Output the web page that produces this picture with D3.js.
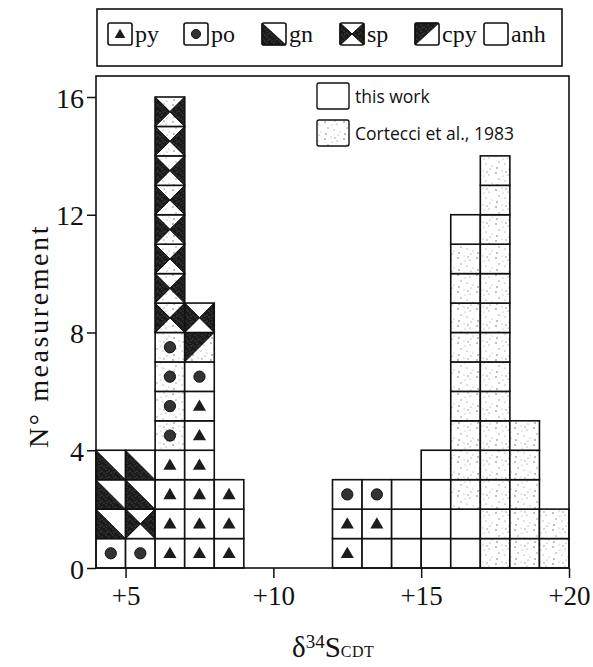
<!DOCTYPE html>
<html>
<head>
<meta charset="utf-8">
<script src="https://cdn.jsdelivr.net/npm/d3@7"></script>
<style>
  html, body { margin: 0; padding: 0; background: #fff; }
  svg { display: block; }
  .serif { font-family: "Liberation Serif", "DejaVu Serif", serif; fill: #111; }
  .sans { font-family: "Open Sans", "DejaVu Sans", sans-serif; fill: #111; }
</style>
</head>
<body>
<svg id="chart" width="593" height="667"></svg>
<script>
// δ34S classes (left edge, ‰ CDT), one stacked column per class
const classStart = [4, 5, 6, 7, 8, 12, 13, 14, 15, 16, 17, 18, 19];

// Mineral of each measurement, stacked from the bottom of each class
const minerals = [
  ["po", "gn", "gn", "gn"],
  ["po", "sp", "gn", "gn"],
  ["py", "py", "py", "py", "po", "po", "po", "po", "sp", "sp", "sp", "sp", "sp", "sp", "sp", "sp"],
  ["py", "py", "py", "py", "py", "py", "po", "cpy", "sp"],
  ["py", "py", "py"],
  ["py", "py", "po"],
  ["anh", "py", "po"],
  ["anh", "anh", "anh"],
  ["anh", "anh", "anh", "anh"],
  ["anh", "anh", "anh", "anh", "anh", "anh", "anh", "anh", "anh", "anh", "anh", "anh"],
  ["anh", "anh", "anh", "anh", "anh", "anh", "anh", "anh", "anh", "anh", "anh", "anh", "anh", "anh"],
  ["anh", "anh", "anh", "anh", "anh"],
  ["anh", "anh"]
];

// Data source of each measurement: "t" = this work, "c" = Cortecci et al., 1983
const sources = [
  ["t", "t", "t", "t"],
  ["t", "t", "t", "t"],
  ["t", "t", "t", "t", "c", "c", "c", "c", "c", "c", "c", "c", "c", "c", "c", "c"],
  ["t", "t", "t", "t", "t", "t", "t", "c", "t"],
  ["t", "t", "t"],
  ["t", "t", "t"],
  ["t", "t", "t"],
  ["t", "t", "t"],
  ["t", "t", "t", "t"],
  ["t", "t", "c", "c", "c", "c", "c", "c", "c", "c", "c", "t"],
  ["c", "c", "c", "c", "c", "c", "c", "c", "c", "c", "c", "c", "c", "c"],
  ["c", "c", "c", "c", "c"],
  ["c", "c"]
];

const mineralKeys = ["py", "po", "gn", "sp", "cpy", "anh"];
const sourceKeys = ["this work", "Cortecci et al., 1983"];
const xTicks = [5, 10, 15, 20];
const xTickLabels = ["+5", "+10", "+15", "+20"];
const yTicks = [0, 4, 8, 12, 16];

const svg = d3.select("#chart");

// ---------- fill patterns ----------
const defs = svg.append("defs");
// light speckle for the literature data
const stip = defs.append("pattern").attr("id", "stipple")
  .attr("patternUnits", "userSpaceOnUse").attr("width", 19).attr("height", 17);
stip.append("rect").attr("width", 19).attr("height", 17).attr("fill", "#fff");
[[2, 3], [8, 1], [14, 5], [5, 9], [11, 11], [17, 13], [3, 15], [9, 6], [15, 16], [12, 2]]
  .forEach(([a, b], i) =>
    stip.append("circle").attr("cx", a).attr("cy", b).attr("r", i % 3 ? 0.55 : 0.8)
      .attr("fill", i % 2 ? "#9a9a9a" : "#6f6f6f"));

// grainy dark fill for the sulphide triangles
const dark = defs.append("pattern").attr("id", "dark")
  .attr("patternUnits", "userSpaceOnUse").attr("width", 7).attr("height", 6);
dark.append("rect").attr("width", 7).attr("height", 6).attr("fill", "#1a1a1a");
[[1, 1], [4, 3], [6, 5], [2, 4]].forEach(([a, b]) =>
  dark.append("circle").attr("cx", a).attr("cy", b).attr("r", 0.6).attr("fill", "#6a6a6a"));

// ---------- scales ----------
const x = d3.scaleLinear().domain([4, 20]).range([96, 569]);
const y = d3.scaleLinear().domain([0, 16]).range([568, 97]);

// ---------- cell glyph drawing ----------
function drawGlyph(g, kind, x0, y0, x1, y1, bg) {
  const cx = (x0 + x1) / 2, cy = (y0 + y1) / 2;
  const w = x1 - x0;
  g.append("rect").attr("x", x0).attr("y", y0).attr("width", x1 - x0).attr("height", y1 - y0)
    .attr("fill", bg);
  const poly = pts => g.append("path").attr("d", "M" + pts.map(p => p.join(",")).join("L") + "Z")
    .attr("fill", "url(#dark)").attr("stroke", "#111").attr("stroke-width", 0.8);
  if (kind === "py") {
    g.append("path").attr("transform", `translate(${cx},${cy + 1})`)
      .attr("d", d3.symbol(d3.symbolTriangle).size(w * w * 0.085)())
      .attr("fill", "#1c1c1c");
  } else if (kind === "po") {
    g.append("circle").attr("cx", cx).attr("cy", cy).attr("r", w * 0.19)
      .attr("fill", "#333").attr("stroke", "#111").attr("stroke-width", 1);
  } else if (kind === "gn") {
    poly([[x0, y0], [x0, y1], [x1, y1]]);
  } else if (kind === "sp") {
    poly([[x0, y0], [cx, cy], [x0, y1]]);
    poly([[x1, y0], [cx, cy], [x1, y1]]);
    g.append("path").attr("d", `M${x0},${y0}L${x1},${y1}M${x1},${y0}L${x0},${y1}`)
      .attr("stroke", "#111").attr("stroke-width", 1);
  } else if (kind === "cpy") {
    poly([[x0, y0], [x1, y0], [x0, y1]]);
  }
  g.append("rect").attr("x", x0).attr("y", y0).attr("width", x1 - x0).attr("height", y1 - y0)
    .attr("fill", "none").attr("stroke", "#111").attr("stroke-width", 1.6);
}

// ---------- stacked cells ----------
const cells = [];
classStart.forEach((c, i) => {
  minerals[i].forEach((m, k) => cells.push({ c, k, m, s: sources[i][k] }));
});

const cellLayer = svg.append("g");
cells.forEach(d => {
  drawGlyph(cellLayer.append("g"), d.m, x(d.c), y(d.k + 1), x(d.c + 1), y(d.k),
    d.s === "c" ? "url(#stipple)" : "#fff");
});

// ---------- frame and axes ----------
svg.append("rect").attr("x", x(4)).attr("y", 76).attr("width", x(20) - x(4)).attr("height", y(0) - 76)
  .attr("fill", "none").attr("stroke", "#111").attr("stroke-width", 1.6);

const yAxis = svg.append("g").attr("transform", `translate(${x(4)},0)`)
  .call(d3.axisLeft(y).tickValues(yTicks).tickSize(9).tickPadding(3).tickFormat(d3.format("d")));
yAxis.select(".domain").remove();
yAxis.selectAll("line").attr("stroke", "#111").attr("stroke-width", 1.5);
yAxis.selectAll("text").attr("class", "serif").attr("font-size", 28).attr("dy", "0.36em");

const xAxis = svg.append("g").attr("transform", `translate(0,${y(0)})`)
  .call(d3.axisBottom(x).tickValues(xTicks).tickSize(10).tickPadding(8)
    .tickFormat((d, i) => xTickLabels[i]));
xAxis.select(".domain").remove();
xAxis.selectAll("line").attr("stroke", "#111").attr("stroke-width", 1.5);
xAxis.selectAll("text").attr("class", "serif").attr("font-size", 27);

// axis titles
svg.append("text").attr("class", "serif")
  .attr("transform", "translate(48,336) rotate(-90)")
  .attr("text-anchor", "middle").attr("font-size", 28).attr("letter-spacing", 2.6)
  .text("N° measurement");

const xt = svg.append("text").attr("class", "serif").attr("x", 292).attr("y", 657)
  .attr("font-size", 29);
xt.append("tspan").text("δ");
xt.append("tspan").attr("font-size", 19).attr("dy", -9).text("34");
xt.append("tspan").attr("dy", 9).text("S");
xt.append("tspan").attr("font-size", 16).attr("letter-spacing", 0.5).text("CDT");

// ---------- mineral legend ----------
svg.append("rect").attr("x", 97).attr("y", 9).attr("width", 465).attr("height", 57)
  .attr("fill", "none").attr("stroke", "#111").attr("stroke-width", 1.6);
const legendX = [108, 184, 262, 340, 415, 484];
mineralKeys.forEach((k, i) => {
  const g = svg.append("g");
  const bx = legendX[i];
  drawGlyph(g, k, bx, 23, bx + 24, 45, "#fff");
  g.select("rect:last-child").attr("rx", 2);
  g.append("text").attr("class", "serif").attr("x", bx + 27).attr("y", 42)
    .attr("font-size", 24).text(k);
});

// ---------- data source legend ----------
const srcFill = ["#fff", "url(#stipple)"];
sourceKeys.forEach((k, i) => {
  const by = 83 + i * 37;
  svg.append("rect").attr("x", 317).attr("y", by).attr("width", 32).attr("height", 26).attr("rx", 2)
    .attr("fill", srcFill[i]).attr("stroke", "#111").attr("stroke-width", 1.4);
  svg.append("text").attr("class", "sans").attr("x", 355).attr("y", by + 20)
    .attr("font-size", 17.5).text(k);
});
</script>
</body>
</html>
